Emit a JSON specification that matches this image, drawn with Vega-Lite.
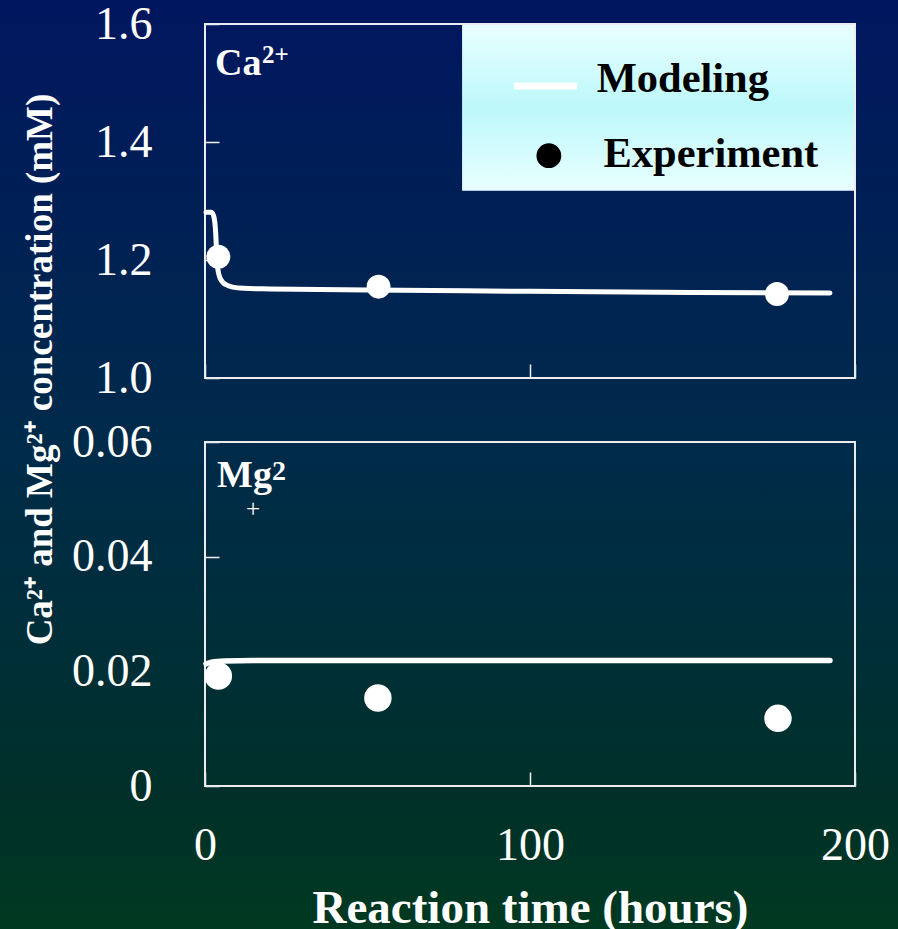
{
  "$schema": "https://vega.github.io/schema/vega-lite/v6.json",
  "width": 898,
  "height": 929,
  "padding": 0,
  "autosize": {"type": "none"},
  "background": "#002646",
  "view": {
    "stroke": null,
    "fill": {
      "gradient": "linear", "x1": 0, "y1": 0, "x2": 0, "y2": 1,
      "stops": [
        {"offset": 0, "color": "#00165f"},
        {"offset": 0.47, "color": "#002a4a"},
        {"offset": 0.69, "color": "#002e38"},
        {"offset": 0.86, "color": "#003028"},
        {"offset": 1, "color": "#003922"}
      ]
    }
  },
  "config": {
    "font": "Liberation Serif",
    "axis": {
      "grid": false,
      "domain": false,
      "labelColor": "#ffffff",
      "labelFont": "Liberation Serif",
      "labelFontSize": 46,
      "labelFontWeight": "normal",
      "labelOverlap": false,
      "labelFlush": false,
      "labelBound": false,
      "tickColor": "#f0f0f0",
      "tickSize": -14,
      "tickWidth": 1.5,
      "titleColor": "#ffffff",
      "titleFont": "Liberation Serif"
    },
    "text": {"font": "Liberation Serif"}
  },
  "layer": [
    {
      "encoding": {
        "x": {
          "field": "x", "type": "quantitative",
          "scale": {"domain": [0, 200], "range": [205, 855], "nice": false, "zero": false},
          "axis": {"orient": "bottom", "offset": -551, "values": [0, 100, 200], "labels": false, "title": null}
        },
        "y": {
          "field": "y", "type": "quantitative",
          "scale": {"domain": [1.0, 1.6], "range": [378, 24], "nice": false, "zero": false},
          "axis": {
            "orient": "left", "offset": -205, "values": [1.0, 1.2, 1.4, 1.6], "format": ".1f",
            "labelPadding": 67,
            "title": "Ca²⁺ and Mg²⁺ concentration (mM)",
            "titleFontSize": 37, "titleFontWeight": "bold",
            "titleX": -165, "titleY": 369, "titleAngle": -90,
            "titleAlign": "center", "titleBaseline": "middle"
          }
        }
      },
      "layer": [
        {
          "data": {"values": [{"x": 79.1, "y": 1.3175, "xe": 200, "ye": 1.6}]},
          "mark": {
            "type": "rect",
            "fill": {
              "gradient": "linear", "x1": 0, "y1": 0, "x2": 0, "y2": 1,
              "stops": [
                {"offset": 0, "color": "#e9ffff"},
                {"offset": 0.5, "color": "#bdf8fb"},
                {"offset": 1, "color": "#e9ffff"}
              ]
            },
            "stroke": null
          },
          "encoding": {"x2": {"field": "xe"}, "y2": {"field": "ye"}}
        },
        {
          "data": {"values": [{"x": 0, "y": 1.0, "xe": 200, "ye": 1.6}]},
          "mark": {"type": "rect", "filled": false, "stroke": "#ececf0", "strokeWidth": 2},
          "encoding": {"x2": {"field": "xe"}, "y2": {"field": "ye"}}
        },
        {
          "data": {"values": [
            {"x": 0.3, "y": 1.281}, {"x": 1.8, "y": 1.281}, {"x": 2.6, "y": 1.276},
            {"x": 3.0, "y": 1.265}, {"x": 3.3, "y": 1.245}, {"x": 3.5, "y": 1.220},
            {"x": 3.8, "y": 1.192}, {"x": 4.3, "y": 1.175}, {"x": 5.2, "y": 1.164},
            {"x": 6.5, "y": 1.158}, {"x": 8.5, "y": 1.154}, {"x": 12, "y": 1.152},
            {"x": 20, "y": 1.151}, {"x": 50, "y": 1.149}, {"x": 100, "y": 1.147},
            {"x": 150, "y": 1.145}, {"x": 192.3, "y": 1.144}
          ]},
          "mark": {"type": "line", "color": "#ffffff", "strokeWidth": 5, "interpolate": "monotone", "strokeCap": "round"}
        },
        {
          "data": {"values": [{"x": 4.1, "y": 1.2056}, {"x": 53.4, "y": 1.1548}, {"x": 176, "y": 1.1424}]},
          "mark": {"type": "circle", "color": "#ffffff", "opacity": 1, "size": 572}
        },
        {
          "data": {"values": [{"x": 95.1, "xe": 114.5, "y": 1.4949}]},
          "mark": {"type": "rule", "color": "#ffffff", "strokeWidth": 7},
          "encoding": {"x2": {"field": "xe"}}
        },
        {
          "data": {"values": [{"x": 105.8, "y": 1.3768}]},
          "mark": {"type": "circle", "color": "#000000", "opacity": 1, "size": 616}
        },
        {
          "data": {"values": [{"x": 120.5, "y": 1.4853, "label": "Modeling"}, {"x": 122.6, "y": 1.3581, "label": "Experiment"}]},
          "mark": {"type": "text", "align": "left", "baseline": "alphabetic", "fontSize": 42.5, "fontWeight": "bold", "color": "#000000"},
          "encoding": {"text": {"field": "label"}}
        },
        {
          "data": {"values": [{"x": 3.1, "y": 1.5136, "label": "Ca"}]},
          "mark": {"type": "text", "align": "left", "baseline": "alphabetic", "fontSize": 38, "fontWeight": "bold", "color": "#ffffff"},
          "encoding": {"text": {"field": "label"}}
        },
        {
          "data": {"values": [{"x": 17.5, "y": 1.5339, "label": "2+"}]},
          "mark": {"type": "text", "align": "left", "baseline": "alphabetic", "fontSize": 25, "fontWeight": "bold", "color": "#ffffff"},
          "encoding": {"text": {"field": "label"}}
        }
      ]
    },
    {
      "encoding": {
        "x": {
          "field": "x", "type": "quantitative",
          "scale": {"domain": [0, 200], "range": [205, 855], "nice": false, "zero": false},
          "axis": {
            "orient": "bottom", "offset": -143, "values": [0, 100, 200], "format": "d",
            "labelPadding": 51,
            "title": "Reaction time (hours)", "titleFontSize": 47, "titleFontWeight": "bold",
            "titleX": 530, "titleY": 136, "titleAlign": "center", "titleBaseline": "alphabetic"
          }
        },
        "y": {
          "field": "y", "type": "quantitative",
          "scale": {"domain": [0, 0.06], "range": [786, 442], "nice": false, "zero": false},
          "axis": {
            "orient": "left", "offset": -205, "values": [0, 0.02, 0.04, 0.06],
            "labelExpr": "datum.value === 0 ? '0' : format(datum.value, '.2f')",
            "labelPadding": 67, "title": null
          }
        }
      },
      "layer": [
        {
          "data": {"values": [{"x": 0, "y": 0, "xe": 200, "ye": 0.06}]},
          "mark": {"type": "rect", "filled": false, "stroke": "#ececf0", "strokeWidth": 2},
          "encoding": {"x2": {"field": "xe"}, "y2": {"field": "ye"}}
        },
        {
          "data": {"values": [
            {"x": 0.3, "y": 0.0213}, {"x": 2, "y": 0.0216}, {"x": 6, "y": 0.0218},
            {"x": 15, "y": 0.0219}, {"x": 100, "y": 0.0219}, {"x": 192.3, "y": 0.0219}
          ]},
          "mark": {"type": "line", "color": "#ffffff", "strokeWidth": 5.5, "interpolate": "monotone", "strokeCap": "round"}
        },
        {
          "data": {"values": [{"x": 4.1, "y": 0.0192}, {"x": 53.2, "y": 0.01535}, {"x": 176.3, "y": 0.0118}]},
          "mark": {"type": "circle", "color": "#ffffff", "opacity": 1, "size": 755}
        },
        {
          "data": {"values": [{"x": 3.7, "y": 0.05215, "label": "Mg"}]},
          "mark": {"type": "text", "align": "left", "baseline": "alphabetic", "fontSize": 38, "fontWeight": "bold", "color": "#ffffff"},
          "encoding": {"text": {"field": "label"}}
        },
        {
          "data": {"values": [{"x": 20.6, "y": 0.05337, "label": "2"}]},
          "mark": {"type": "text", "align": "left", "baseline": "alphabetic", "fontSize": 28, "fontWeight": "bold", "color": "#ffffff"},
          "encoding": {"text": {"field": "label"}}
        },
        {
          "data": {"values": [{"x": 14.8, "y": 0.0469, "label": "+"}]},
          "mark": {"type": "text", "align": "center", "baseline": "alphabetic", "fontSize": 25, "fontWeight": "normal", "color": "#ffffff"},
          "encoding": {"text": {"field": "label"}}
        }
      ]
    }
  ],
  "resolve": {
    "scale": {"x": "independent", "y": "independent"},
    "axis": {"x": "independent", "y": "independent"}
  }
}
